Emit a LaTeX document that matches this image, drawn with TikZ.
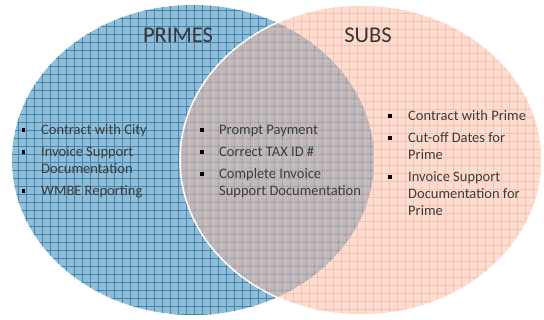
\documentclass[tikz,border=0pt]{standalone}
\usepackage{fontspec}
\setmainfont{Carlito}
\definecolor{bluefill}{HTML}{92BDD6}
\definecolor{blueline}{HTML}{3F86B3}
\definecolor{pinkfill}{HTML}{FDDDD1}
\definecolor{pinkline}{HTML}{F8C3AD}
\definecolor{greyfill}{HTML}{BCB8BC}
\definecolor{greyblue}{HTML}{93A6B8}
\definecolor{greypink}{HTML}{DDB6AB}
\definecolor{txt}{HTML}{3C3C3C}
\begin{document}
\begin{tikzpicture}[x=1pt,y=-1pt,
  item/.style={anchor=base west, inner sep=0pt, text=txt, font=\fontsize{14.5}{17}\selectfont},
  bul/.style={fill=black, minimum size=3.6pt, inner sep=0pt},
  ttl/.style={text=txt!90!black, font=\fontsize{22.5}{26}\selectfont, inner sep=0pt},
  bgrid/.style={blueline, line width=0.9pt},
  pgrid/.style={pinkline, line width=0.9pt}]
\useasboundingbox (0,0) rectangle (544,320);
% blue circle
\fill[bluefill] (193,160) ellipse [x radius=181, y radius=155];
\begin{scope}
  \clip (193,160) ellipse [x radius=181, y radius=155];
  \foreach \i in {2,10,...,546} \draw[bgrid] (\i,0) -- (\i,320);
  \foreach \j in {2,10,...,322} \draw[bgrid] (0,\j) -- (544,\j);
\end{scope}
% pink circle
\fill[pinkfill] (361,160) ellipse [x radius=181, y radius=155];
\begin{scope}
  \clip (361,160) ellipse [x radius=181, y radius=155];
  \foreach \i in {5,13,...,549} \draw[pgrid] (\i,0) -- (\i,320);
  \foreach \j in {5,13,...,325} \draw[pgrid] (0,\j) -- (544,\j);
\end{scope}
% overlap
\begin{scope}
  \clip (193,160) ellipse [x radius=181, y radius=155];
  \clip (361,160) ellipse [x radius=181, y radius=155];
  \fill[greyfill] (0,0) rectangle (544,320);
  \foreach \i in {2,10,...,546} \draw[greyblue, line width=0.8pt] (\i,0) -- (\i,320);
  \foreach \j in {2,10,...,322} \draw[greyblue, line width=0.8pt] (0,\j) -- (544,\j);
  \foreach \i in {5,13,...,549} \draw[greypink, line width=0.8pt] (\i,0) -- (\i,320);
  \foreach \j in {5,13,...,325} \draw[greypink, line width=0.8pt] (0,\j) -- (544,\j);
\end{scope}
\draw[white, line width=1.5pt] (361,160) ellipse [x radius=181, y radius=155];
% titles
\node[ttl] (primes) at (178,35) {PRIMES};
\node[ttl] (subs) at (368,35) {SUBS};
% left items
\node[bul] (lb1) at (23.5,130) {};
\node[item] (l1) at (41,135) {Contract with City};
\node[bul] (lb2) at (23.5,152) {};
\node[item] (l2a) at (41,157) {Invoice Support};
\node[item] (l2b) at (41,174) {Documentation};
\node[bul] (lb3) at (23.5,191) {};
\node[item] (l3) at (41,196) {WMBE Reporting};
% middle items
\node[bul] (mb1) at (202,130) {};
\node[item] (m1) at (219,135) {Prompt Payment};
\node[bul] (mb2) at (202,152) {};
\node[item] (m2) at (219,157) {Correct TAX ID \#};
\node[bul] (mb3) at (202,174) {};
\node[item] (m3a) at (219,179) {Complete Invoice};
\node[item] (m3b) at (219,196) {Support Documentation};
% right items
\node[bul] (rb1) at (390,116) {};
\node[item] (r1) at (408,121) {Contract with Prime};
\node[bul] (rb2) at (390,138) {};
\node[item] (r2a) at (408,143) {Cut-off Dates for};
\node[item] (r2b) at (408,160) {Prime};
\node[bul] (rb3) at (390,177) {};
\node[item] (r3a) at (408,182) {Invoice Support};
\node[item] (r3b) at (408,199) {Documentation for};
\node[item] (r3c) at (408,216) {Prime};
\end{tikzpicture}
\end{document}
